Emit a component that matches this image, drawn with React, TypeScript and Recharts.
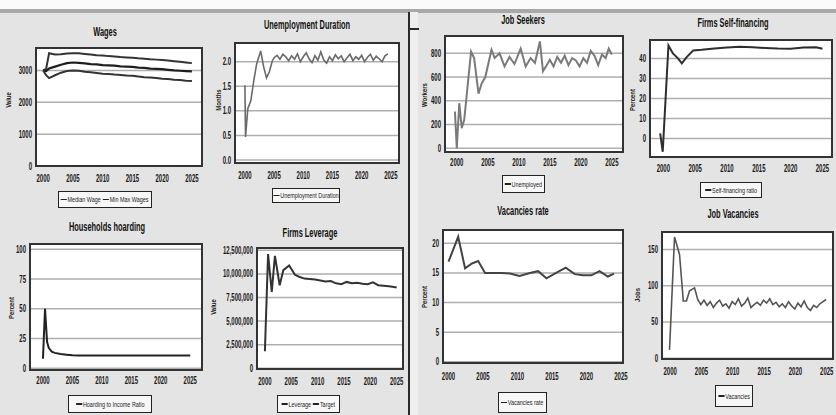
import React from "react";
import { CartesianGrid, Line, LineChart, ReferenceArea, XAxis, YAxis } from "recharts";

const yearTicks = [2000, 2005, 2010, 2015, 2020, 2025];

// Wages
const wageYears = [2000, 2000.5, 2001, 2002, 2003, 2004, 2005, 2006, 2007, 2008, 2009, 2010, 2011, 2012, 2013, 2014, 2015, 2016, 2017, 2018, 2019, 2020, 2021, 2022, 2023, 2024, 2025];
const wageMax = [3000, 3050, 3540, 3500, 3510, 3530, 3540, 3540, 3520, 3500, 3480, 3470, 3450, 3440, 3420, 3410, 3400, 3380, 3370, 3350, 3340, 3330, 3310, 3290, 3270, 3250, 3230];
const wageMedian = [3000, 2980, 3060, 3120, 3180, 3230, 3250, 3240, 3220, 3200, 3190, 3170, 3160, 3150, 3130, 3120, 3110, 3090, 3080, 3060, 3050, 3040, 3020, 3000, 2990, 2980, 2970];
const wageMin = [3000, 2850, 2760, 2850, 2930, 2980, 3000, 2990, 2960, 2940, 2920, 2900, 2890, 2870, 2860, 2840, 2830, 2810, 2790, 2780, 2760, 2740, 2730, 2710, 2700, 2680, 2670];
const wageTicks = [0, 1000, 2000, 3000];

// Unemployment duration
const durYears = [2000, 2000.1, 2000.5, 2001, 2001.5, 2002, 2002.7, 2003.2, 2003.7, 2004.2, 2004.7, 2005, 2005.5, 2006, 2006.5, 2007, 2007.5, 2008, 2008.5, 2009, 2009.5, 2010, 2010.5, 2011, 2011.5, 2012, 2012.5, 2013, 2013.5, 2014, 2014.5, 2015, 2015.5, 2016, 2016.5, 2017, 2017.5, 2018, 2018.5, 2019, 2019.5, 2020, 2020.5, 2021, 2021.5, 2022, 2022.5, 2023, 2023.5, 2024, 2024.5];
const durMonths = [1.52, 0.47, 1.05, 1.2, 1.6, 1.95, 2.22, 1.9, 1.67, 1.8, 2.02, 2.08, 2.13, 2.05, 2.15, 2.1, 2.02, 2.12, 2.05, 2.16, 2.0, 2.1, 2.18, 2.06, 1.98, 2.12, 2.03, 2.2, 2.04, 1.97, 2.1, 2.02, 2.14, 2.06, 2.12, 2.0, 2.08, 2.15, 2.02, 2.1, 2.05, 2.13, 2.0, 2.09, 2.15, 2.03, 2.11, 2.06, 2.0, 2.12, 2.16];
const durTicks = [0, 0.5, 1, 1.5, 2];

// Households hoarding
const hoardYears = [2000, 2000.35, 2000.7, 2001, 2001.5, 2002, 2003, 2004, 2005, 2006, 2008, 2010, 2015, 2020, 2025];
const hoardRatio = [8, 50, 22, 17, 14, 13, 12, 11.5, 11, 10.8, 10.7, 10.7, 10.7, 10.7, 10.7];
const pctTicks100 = [0, 25, 50, 75, 100];

// Firms leverage
const levYears = [2000, 2000.6, 2001.3, 2001.9, 2002.8, 2003.5, 2004.6, 2005.7, 2006.5, 2007.5, 2008.5, 2009.5, 2010.5, 2011.5, 2012.5, 2013.5, 2014.5, 2015.5, 2016.5, 2017.5, 2018.5, 2019.5, 2020.5, 2021.5, 2022.5, 2023.5, 2024.5, 2025];
const leverage = [1800000, 12100000, 8100000, 11900000, 8800000, 10400000, 10900000, 9900000, 9700000, 9500000, 9450000, 9400000, 9300000, 9200000, 9250000, 9000000, 8900000, 9150000, 9000000, 9050000, 8950000, 8900000, 9100000, 8800000, 8750000, 8700000, 8600000, 8550000];
const levTicks = [0, 2500000, 5000000, 7500000, 10000000, 12500000];

// Job seekers
const seekYears = [1999.7, 2000, 2000.4, 2000.8, 2001.2, 2002.3, 2002.8, 2003.5, 2004, 2004.6, 2005.6, 2006.1, 2006.9, 2007.7, 2008.5, 2009.3, 2010.3, 2011.1, 2011.9, 2012.6, 2013.4, 2013.9, 2014.5, 2015, 2015.6, 2016.2, 2016.8, 2017.4, 2018, 2018.6, 2019.2, 2019.8, 2020.4, 2021, 2021.6, 2022.2, 2022.8, 2023.4, 2024, 2024.5, 2025];
const unemployed = [310, 0, 380, 170, 240, 815, 760, 460, 545, 600, 830, 760, 800, 690, 770, 710, 840, 690, 760, 720, 900, 650, 700, 745, 690, 770, 720, 780, 700, 760, 740, 690, 760, 720, 820, 780, 700, 790, 760, 840, 790];
const seekTicks = [0, 200, 400, 600, 800];

// Firms self-financing
const selfYears = [1999.5, 1999.9, 2000.8, 2001.5, 2002.3, 2002.9, 2003.7, 2004.7, 2006, 2008, 2010, 2012, 2014, 2016, 2018, 2020, 2022, 2024, 2025];
const selfRatio = [2.5, -6.7, 46.5, 42.5, 40, 37.5, 40.8, 44, 44.3, 45, 45.5, 45.8, 45.6, 45.2, 44.9, 44.8, 45.4, 45.6, 44.8];
const selfTicks = [0, 10, 20, 30, 40];

// Vacancies rate
const vrYears = [2000, 2001.4, 2002.4, 2003.4, 2004.3, 2005.3, 2006.5, 2007.7, 2008.9, 2010.3, 2011.8, 2013, 2014.2, 2015.6, 2017, 2018.3, 2019.5, 2020.7, 2021.9, 2023.1, 2024];
const vacRate = [16.9, 21.1, 15.8, 16.6, 17, 15, 15, 15, 14.9, 14.5, 15, 15.3, 14.1, 15, 15.9, 14.8, 14.6, 14.6, 15.3, 14.4, 14.9];
const vrTicks = [0, 5, 10, 15, 20];

// Job vacancies
const jvYears = [1999.9, 2000.7, 2001.5, 2002.1, 2002.6, 2003.1, 2003.9, 2004.4, 2004.9, 2005.4, 2005.9, 2006.4, 2006.9, 2007.4, 2007.9, 2008.4, 2008.9, 2009.4, 2009.9, 2010.4, 2010.9, 2011.4, 2011.9, 2012.4, 2012.9, 2013.4, 2013.9, 2014.4, 2014.9, 2015.4, 2015.9, 2016.4, 2016.9, 2017.4, 2017.9, 2018.4, 2018.9, 2019.4, 2019.9, 2020.4, 2020.9, 2021.4, 2021.9, 2022.4, 2022.9, 2023.4, 2023.9, 2024.4, 2024.9];
const vacancies = [11.6, 167, 143, 79, 79, 93, 97, 81, 74, 80, 73, 78, 70, 76, 80, 72, 75, 69, 78, 74, 82, 72, 76, 83, 70, 74, 77, 73, 80, 76, 82, 74, 77, 71, 75, 70, 78, 72, 68, 76, 71, 79, 70, 66, 73, 70, 75, 78, 81];
const jvTicks = [0, 50, 100, 150];

const FONT = "'Liberation Sans', Arial, sans-serif";
const SQUEEZE = 0.6;

type Box = { x: number; y: number; w: number; h: number };
type SeriesDef = { key: string; color: string; width: number };

type PanelProps = {
  title: string;
  titleAt: [number, number];
  box: Box;
  yw: number;
  xDomain: [number, number];
  yDomain: [number, number];
  yTicks: number[];
  yFmt?: (v: number) => string;
  yLabel: string;
  yLabelAt: [number, number];
  rows: Record<string, number>[];
  series: SeriesDef[];
  legend: string[];
  legendBox: Box;
  tickGap?: number;
};

const tickText = { fontSize: 10, fill: "#1a1a1a", fontFamily: FONT, fontWeight: 700 };

function XTick(props: any) {
  const { x, y, payload } = props;
  return (
    <text transform={`translate(${x},${y}) scale(${SQUEEZE},1)`} textAnchor="middle" dy="0.71em" {...tickText}>
      {payload.value}
    </text>
  );
}

function makeYTick(fmt?: (v: number) => string) {
  return function YTick(props: any) {
    const { x, y, payload } = props;
    const label = fmt ? fmt(payload.value) : String(payload.value);
    return (
      <text transform={`translate(${x},${y}) scale(${SQUEEZE},1)`} textAnchor="end" dy="0.35em" {...tickText}>
        {label}
      </text>
    );
  };
}

function Panel(p: PanelProps) {
  const rightPad = 14;
  const topPad = 8;
  return (
    <>
      <div
        style={{
          position: "absolute",
          left: p.titleAt[0] - 100,
          width: 200,
          top: p.titleAt[1] - 8,
          textAlign: "center",
          fontFamily: FONT,
          fontWeight: 700,
          fontSize: 13,
          lineHeight: "15px",
          color: "#111",
          transform: "scaleX(0.57)",
        }}
      >
        {p.title}
      </div>
      <div
        style={{
          position: "absolute",
          left: p.yLabelAt[0] - 30,
          top: p.yLabelAt[1] - 5,
          width: 60,
          lineHeight: "10px",
          textAlign: "center",
          transform: "rotate(-90deg) scaleX(0.8)",
          fontFamily: FONT,
          fontSize: 7.5,
          fontWeight: 700,
          color: "#222",
        }}
      >
        {p.yLabel}
      </div>
      <div style={{ position: "absolute", left: p.box.x - p.yw, top: p.box.y - topPad }}>
        <LineChart
          width={p.box.w + p.yw + rightPad}
          height={p.box.h + 22 + topPad}
          data={p.rows}
          margin={{ top: topPad, right: rightPad, bottom: 0, left: 0 }}
        >
          <CartesianGrid vertical={false} fill="#ffffff" stroke="#aeaeae" strokeWidth={1.5} />
          <XAxis
            dataKey="x"
            type="number"
            domain={p.xDomain}
            ticks={yearTicks}
            interval={0}
            height={22}
            axisLine={false}
            tickLine={false}
            tickSize={0}
            tickMargin={p.tickGap ?? 8}
            tick={<XTick />}
            allowDataOverflow
          />
          <YAxis
            type="number"
            domain={p.yDomain}
            ticks={p.yTicks}
            interval={0}
            width={p.yw}
            axisLine={false}
            tickLine={false}
            tickSize={0}
            tickMargin={4}
            tick={makeYTick(p.yFmt)}
            allowDataOverflow
          />
          <ReferenceArea
            x1={p.xDomain[0]}
            x2={p.xDomain[1]}
            y1={p.yDomain[0]}
            y2={p.yDomain[1]}
            fill="none"
            stroke="#333"
            strokeWidth={2}
            ifOverflow="visible"
          />
          {p.series.map((s) => (
            <Line
              key={s.key}
              dataKey={s.key}
              type="linear"
              stroke={s.color}
              strokeWidth={s.width}
              dot={false}
              isAnimationActive={false}
            />
          ))}
        </LineChart>
      </div>
      <div
        style={{
          position: "absolute",
          left: p.legendBox.x,
          top: p.legendBox.y,
          width: p.legendBox.w,
          height: p.legendBox.h,
          boxSizing: "border-box",
          border: "1.5px solid #222",
          background: "#f7f7f7",
          display: "flex",
          alignItems: "center",
          justifyContent: "center",
          overflow: "visible",
        }}
      >
        <div
          style={{
            display: "flex",
            alignItems: "center",
            gap: 3,
            fontFamily: FONT,
            fontSize: 8,
            color: "#222",
            whiteSpace: "nowrap",
            transform: "scaleX(0.68)",
          }}
        >
          {p.legend.map((l) => (
            <span key={l} style={{ display: "inline-flex", alignItems: "center", gap: 1 }}>
              <span style={{ display: "inline-block", width: 9, height: 1.5, background: "#222" }} />
              {l}
            </span>
          ))}
        </div>
      </div>
    </>
  );
}

const wageRows = wageYears.map((x, i) => ({ x, max: wageMax[i], med: wageMedian[i], min: wageMin[i] }));
const durRows = durYears.map((x, i) => ({ x, y: durMonths[i] }));
const hoardRows = hoardYears.map((x, i) => ({ x, y: hoardRatio[i] }));
const levRows = levYears.map((x, i) => ({ x, y: leverage[i] }));
const seekRows = seekYears.map((x, i) => ({ x, y: unemployed[i] }));
const selfRows = selfYears.map((x, i) => ({ x, y: selfRatio[i] }));
const vrRows = vrYears.map((x, i) => ({ x, y: vacRate[i] }));
const jvRows = jvYears.map((x, i) => ({ x, y: vacancies[i] }));

export default function App() {
  return (
    <div
      style={{
        position: "absolute",
        left: 0,
        top: 0,
        width: 836,
        height: 415,
        background: "#e4e4e4",
        overflow: "hidden",
      }}
    >
      <div style={{ position: "absolute", left: 0, top: 0, width: 836, height: 9, background: "#fafafa" }} />
      <div style={{ position: "absolute", left: 0, top: 9, width: 836, height: 4, background: "#a8a8a8" }} />
      <div style={{ position: "absolute", left: 408, top: 12, width: 2, height: 403, background: "#2a2a2a" }} />
      <div style={{ position: "absolute", left: 410, top: 12, width: 8, height: 403, background: "#efefef" }} />
      <div style={{ position: "absolute", left: 409, top: 28, width: 10, height: 1.5, background: "#2a2a2a" }} />

      <Panel
        title="Wages"
        titleAt={[105, 32]}
        box={{ x: 36, y: 48, w: 166, h: 118 }}
        yw={34}
        xDomain={[1998.8, 2026.7]}
        yDomain={[0, 3705]}
        yTicks={wageTicks}
        yLabel="Value"
        yLabelAt={[9, 100]}
        rows={wageRows}
        series={[
          { key: "max", color: "#333", width: 2 },
          { key: "med", color: "#1e1e1e", width: 2.2 },
          { key: "min", color: "#333", width: 2 },
        ]}
        legend={["Median Wage", "Min Max Wages"]}
        legendBox={{ x: 58, y: 191, w: 94, h: 17 }}
        tickGap={9}
      />
      <Panel
        title="Unemployment Duration"
        titleAt={[307, 25]}
        box={{ x: 235, y: 43, w: 164, h: 120 }}
        yw={30}
        xDomain={[1998.3, 2026.4]}
        yDomain={[-0.06, 2.38]}
        yTicks={durTicks}
        yFmt={(v) => v.toFixed(1)}
        yLabel="Months"
        yLabelAt={[219, 100]}
        rows={durRows}
        series={[{ key: "y", color: "#6a6a6a", width: 1.6 }]}
        legend={["Unemployment Duration"]}
        legendBox={{ x: 272, y: 188, w: 68, h: 15 }}
        tickGap={9}
      />
      <Panel
        title="Households hoarding"
        titleAt={[107, 227]}
        box={{ x: 30, y: 244, w: 172, h: 126 }}
        yw={28}
        xDomain={[1997.8, 2027]}
        yDomain={[-1.4, 104.5]}
        yTicks={pctTicks100}
        yLabel="Percent"
        yLabelAt={[12, 308]}
        rows={hoardRows}
        series={[{ key: "y", color: "#222", width: 2 }]}
        legend={["Hoarding to Income Ratio"]}
        legendBox={{ x: 68, y: 395, w: 84, h: 18 }}
        tickGap={7}
      />
      <Panel
        title="Firms Leverage"
        titleAt={[310, 233]}
        box={{ x: 257, y: 248, w: 146, h: 121 }}
        yw={40}
        xDomain={[1998.5, 2026.2]}
        yDomain={[-70000, 12740000]}
        yTicks={levTicks}
        yFmt={(v) => v.toLocaleString("en-US")}
        yLabel="Value"
        yLabelAt={[214, 307]}
        rows={levRows}
        series={[{ key: "y", color: "#333", width: 2 }]}
        legend={["Leverage", "Target"]}
        legendBox={{ x: 277, y: 395, w: 63, h: 18 }}
        tickGap={9}
      />
      <Panel
        title="Job Seekers"
        titleAt={[523, 20]}
        box={{ x: 445, y: 36, w: 178, h: 116 }}
        yw={26}
        xDomain={[1998.1, 2026.8]}
        yDomain={[-31, 946]}
        yTicks={seekTicks}
        yLabel="Workers"
        yLabelAt={[425, 95]}
        rows={seekRows}
        series={[{ key: "y", color: "#7a7a7a", width: 2 }]}
        legend={["Unemployed"]}
        legendBox={{ x: 502, y: 175, w: 43, h: 18 }}
        tickGap={7}
      />
      <Panel
        title="Firms Self-financing"
        titleAt={[733, 23]}
        box={{ x: 650, y: 40, w: 182, h: 117 }}
        yw={20}
        xDomain={[1997.9, 2026.5]}
        yDomain={[-9.3, 49.2]}
        yTicks={selfTicks}
        yLabel="Percent"
        yLabelAt={[633, 100]}
        rows={selfRows}
        series={[{ key: "y", color: "#2e2e2e", width: 2 }]}
        legend={["Self-financing ratio"]}
        legendBox={{ x: 700, y: 182, w: 62, h: 16 }}
        tickGap={8}
      />
      <Panel
        title="Vacancies rate"
        titleAt={[523, 211]}
        box={{ x: 443, y: 230, w: 180, h: 133 }}
        yw={22}
        xDomain={[1999.2, 2025.3]}
        yDomain={[-0.2, 22.25]}
        yTicks={vrTicks}
        yLabel="Percent"
        yLabelAt={[425, 297]}
        rows={vrRows}
        series={[{ key: "y", color: "#444", width: 2 }]}
        legend={["Vacancies rate"]}
        legendBox={{ x: 498, y: 392, w: 49, h: 21 }}
        tickGap={10}
      />
      <Panel
        title="Job Vacancies"
        titleAt={[733, 214]}
        box={{ x: 662, y: 232, w: 171, h: 127 }}
        yw={24}
        xDomain={[1998.7, 2026]}
        yDomain={[-1, 174]}
        yTicks={jvTicks}
        yLabel="Jobs"
        yLabelAt={[638, 295]}
        rows={jvRows}
        series={[{ key: "y", color: "#555", width: 1.6 }]}
        legend={["Vacancies"]}
        legendBox={{ x: 715, y: 385, w: 38, h: 22 }}
        tickGap={9}
      />
    </div>
  );
}
